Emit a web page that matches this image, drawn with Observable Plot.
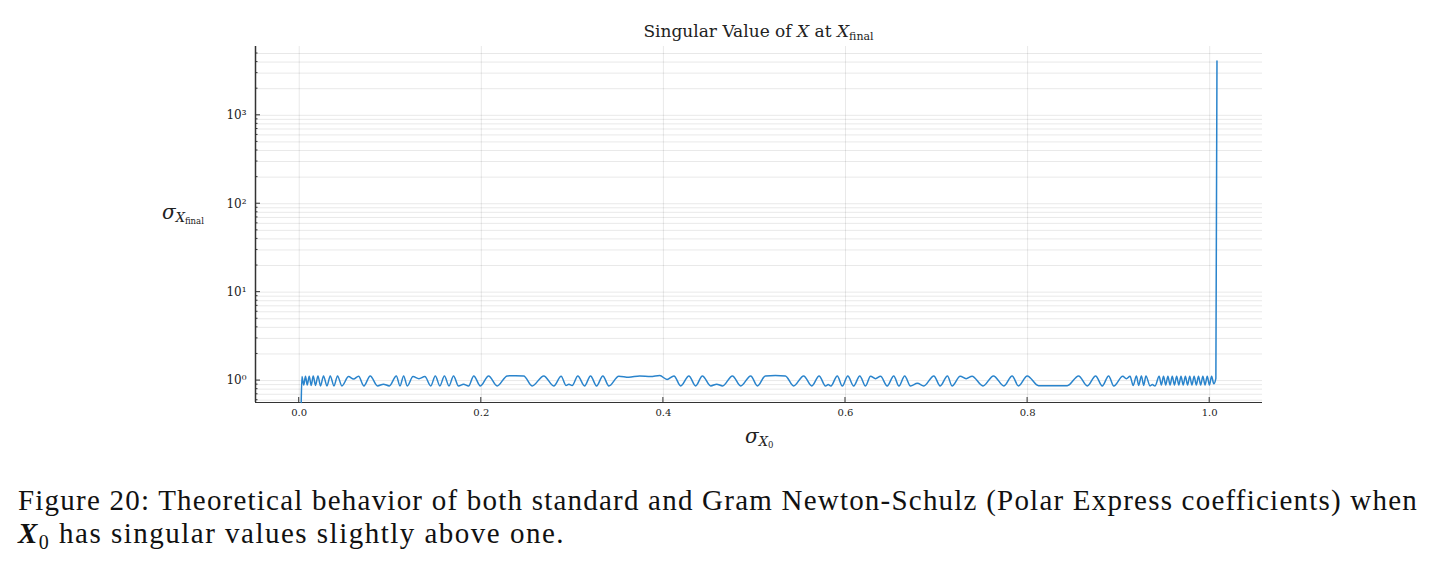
<!DOCTYPE html>
<html><head><meta charset="utf-8">
<script src="https://cdn.jsdelivr.net/npm/d3@7"></script>
<script src="https://cdn.jsdelivr.net/npm/@observablehq/plot@0.6"></script>
<style>
body{margin:0;background:#fff;}
#chart svg{display:block;}
.caption{font-family:"Liberation Serif",serif;font-size:29px;color:#111;margin-left:18px;line-height:33px;margin-top:24px;}
.caption div{white-space:nowrap;}
.caption span.line{display:inline-block;}
.sub{font-size:20px;position:relative;top:6px;}
</style></head><body>
<div id="chart"></div>
<div class="caption"><div><span class="line" id="cap1">Figure 20: Theoretical behavior of both standard and Gram Newton-Schulz (Polar Express coefficients) when</span></div><div><span class="line" id="cap2"><b><i>X</i></b><span class="sub">0</span> has singular values slightly above one.</span></div></div>
<script>
// σ_X0 (x) and σ_Xfinal (y) (extrema of the oscillation, then the final spike)
const sigmaCurve = [
[0.0022,0.565],[0.0030,1.11],[0.0050,0.89],[0.0069,1.12],[0.0088,0.89],[0.0110,1.12],[0.0132,0.88],[0.0154,1.13],
[0.0179,0.88],[0.0206,1.13],[0.0234,0.87],[0.0267,1.13],[0.0305,0.87],[0.0341,1.13],[0.0382,0.87],[0.0421,1.13],
[0.0469,0.87],[0.0542,1.11],[0.0597,1.04],[0.0652,1.12],[0.0710,0.87],[0.0780,1.13],[0.0860,0.87],[0.0925,0.91],
[0.0990,0.87],[0.1067,1.13],[0.1107,0.87],[0.1147,1.13],[0.1187,0.87],[0.1250,1.11],[0.1315,1.05],[0.1380,1.11],
[0.1445,0.87],[0.1495,1.13],[0.1545,0.87],[0.1595,1.13],[0.1645,0.87],[0.1695,1.13],[0.1750,0.87],[0.1805,0.91],
[0.1860,0.87],[0.1917,1.13],[0.1990,0.87],[0.2080,1.13],[0.2174,0.87],[0.2285,1.13],[0.2375,1.135],[0.2466,1.13],
[0.2558,0.87],[0.2686,1.13],[0.2796,0.87],[0.2877,1.12],[0.2930,0.88],[0.2962,0.91],[0.2998,0.88],[0.3060,1.13],
[0.3134,0.87],[0.3200,1.13],[0.3266,0.87],[0.3335,1.13],[0.3401,0.87],[0.3510,1.12],[0.3620,1.09],[0.3740,1.13],
[0.3860,1.11],[0.3960,1.14],[0.4040,1.03],[0.4116,1.13],[0.4190,0.87],[0.4280,1.13],[0.4354,0.87],[0.4428,1.13],
[0.4520,0.87],[0.4585,0.91],[0.4650,0.87],[0.4758,1.13],[0.4849,0.87],[0.4959,1.13],[0.5033,0.87],[0.5120,1.13],
[0.5230,1.14],[0.5340,1.13],[0.5430,0.87],[0.5540,1.13],[0.5630,0.87],[0.5710,1.13],[0.5780,0.87],[0.5810,0.90],
[0.5840,0.87],[0.5910,1.13],[0.5965,0.87],[0.6025,1.13],[0.6090,0.87],[0.6157,1.13],[0.6220,0.87],[0.6275,1.12],
[0.6330,1.05],[0.6385,1.12],[0.6458,0.87],[0.6530,1.13],[0.6587,0.87],[0.6650,1.13],[0.6714,0.87],[0.6790,0.93],
[0.6860,0.87],[0.6970,1.13],[0.7040,0.87],[0.7120,1.13],[0.7170,0.87],[0.7260,1.12],[0.7325,1.05],[0.7390,1.12],
[0.7510,0.87],[0.7625,1.13],[0.7740,0.87],[0.7830,1.13],[0.7900,0.87],[0.7996,1.13],[0.8120,0.875],[0.8280,0.872],
[0.8436,0.875],[0.8560,1.13],[0.8656,0.87],[0.8747,1.13],[0.8820,0.87],[0.8890,1.13],[0.8947,0.87],[0.9045,1.12],
[0.9085,1.05],[0.9125,1.12],[0.9160,0.88],[0.9195,1.13],[0.9220,0.88],[0.9250,1.13],[0.9275,0.88],[0.9300,1.13],
[0.9345,0.87],[0.9370,0.90],[0.9400,0.87],[0.9445,1.12],[0.9469,0.89],[0.9493,1.12],[0.9517,0.89],[0.9541,1.12],
[0.9565,0.89],[0.9589,1.12],[0.9613,0.89],[0.9637,1.12],[0.9661,0.89],[0.9685,1.12],[0.9709,0.89],[0.9733,1.12],
[0.9757,0.89],[0.9781,1.12],[0.9805,0.89],[0.9829,1.12],[0.9853,0.89],[0.9877,1.12],[0.9901,0.89],[0.9925,1.12],
[0.9949,0.89],[0.9973,1.12],[0.9997,0.89],[1.0021,1.12],[1.0045,0.92],[1.0068,1.06],[1.0080,4100]
];
const xTicks = [0.0, 0.2, 0.4, 0.6, 0.8, 1.0];
const yMajor = [1, 10, 100, 1000];
const yMinor = [0.6,0.7,0.8,0.9, 2,3,4,5,6,7,8,9, 20,30,40,50,60,70,80,90, 200,300,400,500,600,700,800,900, 2000,3000,4000,5000];
const xDomain = [-0.048, 1.058];
const yDomain = [0.565, 6000];
const sup = {0:"\u2070",1:"\u00b9",2:"\u00b2",3:"\u00b3"};

const points = sigmaCurve.map(([x, y]) => ({x, y}));
const plot = Plot.plot({
  width: 1434, height: 460,
  marginLeft: 255, marginRight: 172, marginTop: 46, marginBottom: 58,
  style: {fontFamily: "DejaVu Serif", fontSize: "10px", color: "#222", background: "#fff"},
  x: {domain: xDomain},
  y: {type: "log", domain: yDomain},
  marks: [
    Plot.ruleY(yMinor.concat(yMajor), {stroke: "#000", strokeOpacity: 0.09}),
    Plot.ruleX(xTicks, {stroke: "#000", strokeOpacity: 0.09}),
    Plot.axisX({ticks: xTicks, tickSize: 0, tickPadding: 6, tickFormat: d3.format(".1f"), label: null}),
    Plot.axisY({ticks: yMajor, tickSize: 0, tickPadding: 9, fontSize: 12, tickFormat: d => "10" + sup[Math.round(Math.log10(d))], label: null}),
    Plot.ruleX([xDomain[0]], {stroke: "#333", strokeWidth: 1.5}),
    Plot.ruleY([yDomain[0]], {stroke: "#333", strokeWidth: 1.2}),
    Plot.line(points, {x: "x", y: "y", stroke: "#2a84cc", strokeWidth: 1.5, curve: "monotone-x"})
  ]
});
document.getElementById("chart").appendChild(plot);

const sx = plot.scale("x"), sy = plot.scale("y");
const svg = d3.select(plot);
const x0 = sx.apply(xDomain[0]), yb = sy.apply(yDomain[0]);
const g = svg.append("g").attr("stroke", "#333").attr("stroke-width", 1);
xTicks.forEach(t => g.append("line").attr("x1", sx.apply(t)).attr("x2", sx.apply(t)).attr("y1", yb).attr("y2", yb - 5));
yMajor.forEach(t => g.append("line").attr("x1", x0).attr("x2", x0 + 5).attr("y1", sy.apply(t)).attr("y2", sy.apply(t)));
yMinor.forEach(t => g.append("line").attr("x1", x0).attr("x2", x0 + 2.5).attr("y1", sy.apply(t)).attr("y2", sy.apply(t)));

const cx = (sx.apply(xDomain[0]) + sx.apply(xDomain[1])) / 2;
const title = svg.append("text").attr("x", cx).attr("y", 37).attr("text-anchor", "middle")
  .attr("font-family", "DejaVu Serif").attr("font-size", 17).attr("fill", "#222");
title.append("tspan").text("Singular Value of ");
title.append("tspan").attr("font-style", "italic").text("X");
title.append("tspan").text(" at ");
title.append("tspan").attr("font-style", "italic").text("X");
title.append("tspan").attr("font-size", 11).attr("dy", 3).text("final");

const ylab = svg.append("text").attr("x", 162).attr("y", 219).attr("text-anchor", "start")
  .attr("font-family", "DejaVu Serif").attr("fill", "#222");
ylab.append("tspan").attr("font-style", "italic").attr("font-size", 20).text("\u03c3");
ylab.append("tspan").attr("font-style", "italic").attr("font-size", 13).attr("dy", 3).text("X");
ylab.append("tspan").attr("font-size", 8.5).attr("dy", 2).text("final");

const xlab = svg.append("text").attr("x", 745).attr("y", 443).attr("text-anchor", "start")
  .attr("font-family", "DejaVu Serif").attr("fill", "#222");
xlab.append("tspan").attr("font-style", "italic").attr("font-size", 20).text("\u03c3");
xlab.append("tspan").attr("font-style", "italic").attr("font-size", 13).attr("dy", 3).text("X");
xlab.append("tspan").attr("font-size", 8.5).attr("dy", 2).text("0");

// fit caption lines to the reference widths
function fitLine(el, target) {
  const n = el.textContent.length;
  const w = el.getBoundingClientRect().width;
  el.style.letterSpacing = ((target - w) / n) + "px";
}
fitLine(document.getElementById("cap1"), 1400);
fitLine(document.getElementById("cap2"), 547);
</script>
</body></html>
